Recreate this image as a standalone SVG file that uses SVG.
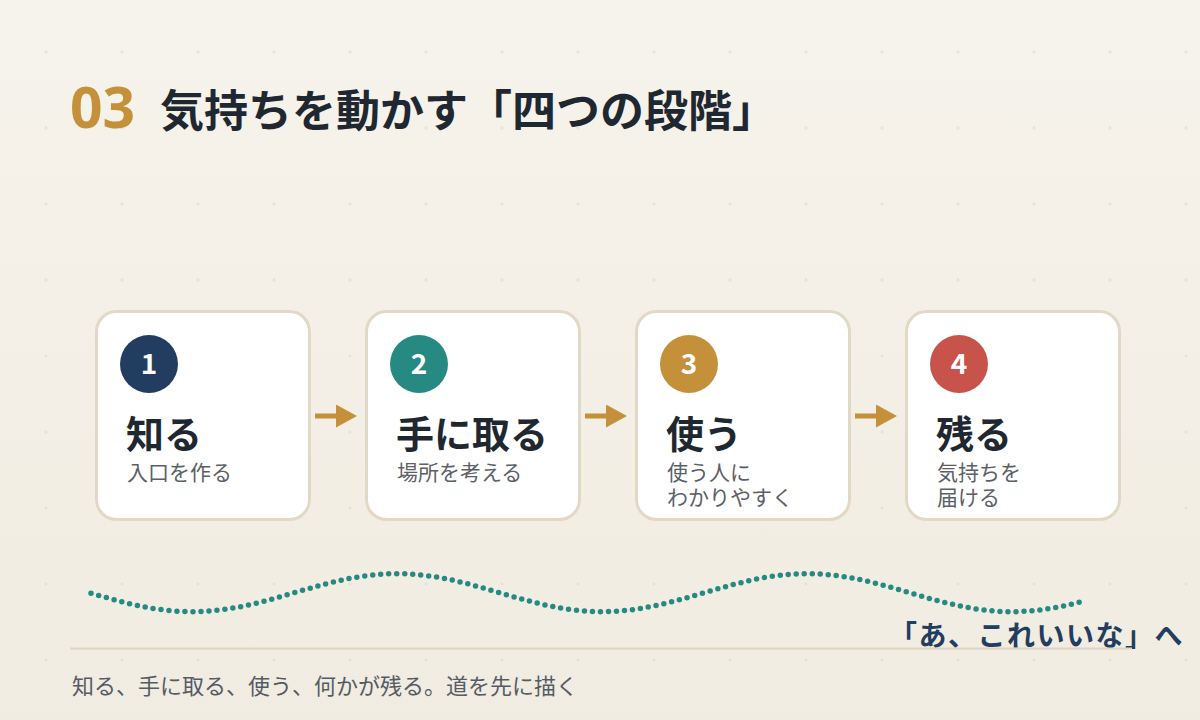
<svg xmlns="http://www.w3.org/2000/svg" width="1200" height="720" viewBox="0 0 1200 720">
<defs>
<linearGradient id="bg" x1="0" y1="0" x2="0" y2="1">
<stop offset="0" stop-color="#f6f3ec"/>
<stop offset="1" stop-color="#f1ece1"/>
</linearGradient>
<pattern id="grid" x="0" y="0" width="76" height="76" patternUnits="userSpaceOnUse">
<path d="M44.5 52H47.5M46 50.5V53.5" stroke="#e2dccd" stroke-width="1"/>
</pattern>
<marker id="ah" viewBox="0 0 21 23" refX="0" refY="11.5" markerWidth="21" markerHeight="23" markerUnits="userSpaceOnUse" orient="auto">
<path d="M0 0L21 11.5L0 23Z" fill="#c4913a"/>
</marker>
</defs>
<style>
text{font-family:"Noto Sans CJK JP","Noto Sans",sans-serif}
.box{fill:#ffffff;stroke:#e2d8c6;stroke-width:3}
.num{fill:#ffffff;font-size:28px;font-weight:700;text-anchor:middle}
.ttl{fill:#1f2830;font-size:38px;font-weight:700}
.sub{fill:#5b6067;font-size:21px}
.arr{stroke:#c4913a;stroke-width:5;fill:none}
</style>
<rect width="1200" height="720" fill="url(#bg)"/>
<rect width="1200" height="720" fill="url(#grid)"/>

<g id="header">
<text x="70" y="128" font-size="57" font-weight="700" fill="#c4913a" style="font-family:'Noto Sans',sans-serif">03</text>
<text x="160" y="127" font-size="44" font-weight="700" fill="#1f2830">気持ちを動かす「四つの段階」</text>
</g>

<g id="connectors">
<line class="arr" x1="315" y1="416" x2="336" y2="416" marker-end="url(#ah)"/>
<line class="arr" x1="585" y1="416" x2="606" y2="416" marker-end="url(#ah)"/>
<line class="arr" x1="855" y1="416" x2="876" y2="416" marker-end="url(#ah)"/>
</g>

<g id="node1">
<rect class="box" x="96.5" y="311.5" width="213" height="208" rx="20"/>
<circle cx="149" cy="364" r="29" fill="#223d5f"/>
<text class="num" x="149" y="374">1</text>
<text class="ttl" x="126" y="448">知る</text>
<text class="sub" x="127" y="480">入口を作る</text>
</g>
<g id="node2">
<rect class="box" x="366.5" y="311.5" width="213" height="208" rx="20"/>
<circle cx="419" cy="364" r="29" fill="#268a82"/>
<text class="num" x="419" y="374">2</text>
<text class="ttl" x="396" y="448">手に取る</text>
<text class="sub" x="397" y="480">場所を考える</text>
</g>
<g id="node3">
<rect class="box" x="636.5" y="311.5" width="213" height="208" rx="20"/>
<circle cx="689" cy="364" r="29" fill="#c4913a"/>
<text class="num" x="689" y="374">3</text>
<text class="ttl" x="666" y="448">使う</text>
<text class="sub" x="667" y="480">使う人に</text>
<text class="sub" x="667" y="505">わかりやすく</text>
</g>
<g id="node4">
<rect class="box" x="906.5" y="311.5" width="213" height="208" rx="20"/>
<circle cx="959" cy="364" r="29" fill="#c8534b"/>
<text class="num" x="959" y="374">4</text>
<text class="ttl" x="936" y="448">残る</text>
<text class="sub" x="937" y="480">気持ちを</text>
<text class="sub" x="937" y="505">届ける</text>
</g>

<g id="wave">
<path d="M91 593.2C122.9 602.4 154.9 611.7 192 611.7S261.1 602.4 294.5 592.7S359.9 573.7 397 573.7S466.1 583 499.5 592.7S564.9 611.7 602 611.7S671.1 602.4 704.5 592.7S769.9 573.7 807 573.7S876.1 583 909.5 592.7S974.9 611.7 1012 611.7C1037 611.7 1061 607.3 1086 600.5" fill="none" stroke="#268a82" stroke-width="5.5" stroke-linecap="round" stroke-dasharray="0 8"/>
</g>

<g id="footer">
<text x="889" y="646" font-size="28" font-weight="700" fill="#223d5f" letter-spacing="1.5">「あ、これいいな」へ</text>
<line x1="70" y1="648.5" x2="1132" y2="648.5" stroke="#e0d6c4" stroke-width="2"/>
<text x="72" y="694" font-size="22" fill="#555b63">知る、手に取る、使う、何かが残る。道を先に描く</text>
</g>
</svg>
